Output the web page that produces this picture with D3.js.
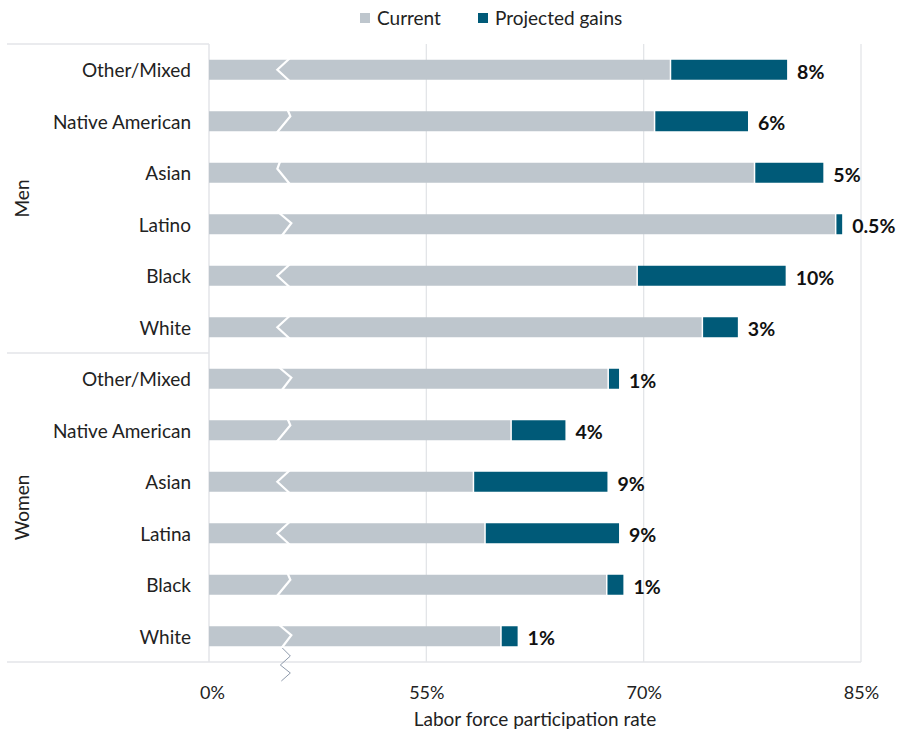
<!DOCTYPE html>
<html>
<head>
<meta charset="utf-8">
<script src="https://cdn.jsdelivr.net/npm/d3@7"></script>
<style>
  html, body { margin: 0; padding: 0; background: #fff; }
  svg { display: block; font-family: Lato, "Open Sans", sans-serif; }
</style>
</head>
<body>
<svg id="chart" width="897" height="734"></svg>
<script>
// ---- data ----
const groups = ["Men", "Women"];
const categories = ["Other/Mixed", "Native American", "Asian", "Latino", "Black", "White",
                    "Other/Mixed", "Native American", "Asian", "Latina", "Black", "White"];
const rowGroup = ["Men","Men","Men","Men","Men","Men","Women","Women","Women","Women","Women","Women"];
const currentRate = [71.8, 70.7, 77.6, 83.2, 69.5, 74.0, 67.5, 60.8, 58.2, 59.0, 67.4, 60.1];
const projectedRate = [79.9, 77.2, 82.4, 83.7, 79.8, 76.5, 68.3, 64.6, 67.5, 68.3, 68.6, 61.3];
const gainLabels = ["8%", "6%", "5%", "0.5%", "10%", "3%", "1%", "4%", "9%", "9%", "1%", "1%"];
const tickValues = [40, 55, 70, 85];
const tickLabels = ["0%", "55%", "70%", "85%"];
const seriesNames = ["Current", "Projected gains"];

// ---- style ----
const colCurrent = "#bec6cd";
const colGain = "#005a78";
const colGrid = "#e3e5e8";
const breakShapes = ["<","z","s",">","<","<",">","z","<","<","z",">"];

const svg = d3.select("#chart");
const pLeft = 209, pRight = 861, pTop = 44, pBottom = 662;

const x = d3.scaleLinear().domain([40, 85]).range([pLeft, pRight]);
const rows = d3.range(categories.length);
const y = d3.scaleBand().domain(rows).range([pTop, pBottom]).paddingInner(0.612).paddingOuter(0.306);

// gridlines
svg.append("g").selectAll("line").data(tickValues.slice(1)).join("line")
  .attr("x1", d => x(d)).attr("x2", d => x(d))
  .attr("y1", pTop).attr("y2", pBottom)
  .attr("stroke", colGrid).attr("stroke-width", 1.3);

// frame lines
const frame = svg.append("g").attr("stroke", colGrid).attr("stroke-width", 1.5);
frame.append("line").attr("x1", 7).attr("x2", pLeft).attr("y1", pTop).attr("y2", pTop);
frame.append("line").attr("x1", pLeft).attr("x2", pLeft).attr("y1", pTop).attr("y2", pBottom);
frame.append("line").attr("x1", 7).attr("x2", pRight).attr("y1", pBottom).attr("y2", pBottom);
const splitY = y(6) - y.step() * y.paddingInner() / 2;
frame.append("line").attr("x1", 7).attr("x2", pLeft).attr("y1", splitY).attr("y2", splitY);

// bars
const bars = svg.append("g");
bars.selectAll("rect.cur").data(rows).join("rect").attr("class", "cur")
  .attr("x", x(40)).attr("y", i => y(i))
  .attr("width", i => x(currentRate[i]) - x(40))
  .attr("height", y.bandwidth())
  .attr("fill", colCurrent);
bars.selectAll("rect.gain").data(rows).join("rect").attr("class", "gain")
  .attr("x", i => x(currentRate[i]) + 1.5).attr("y", i => y(i))
  .attr("width", i => Math.max(0, x(projectedRate[i]) - x(currentRate[i]) - 1.5))
  .attr("height", y.bandwidth())
  .attr("fill", colGain);

// break marks in bars
const bx = x(45.2);
const shapePts = {
  "<": [[6, -0.1], [-7, 0.5], [6, 1.1]],
  ">": [[-6, -0.1], [7, 0.45], [-3, 1.1]],
  "z": [[3, -0.1], [6, 0.25], [-8, 1.1]],
  "s": [[-4, -0.1], [-7, 0.3], [6, 1.1]]
};
bars.selectAll("path.brk").data(rows).join("path").attr("class", "brk")
  .attr("d", i => d3.line()(shapePts[breakShapes[i]].map(p => [bx + p[0], y(i) + p[1] * y.bandwidth()])))
  .attr("fill", "none").attr("stroke", "#fff").attr("stroke-width", 2.2);

// axis break symbol
svg.append("path")
  .attr("d", d3.line()([[bx - 2, 648], [bx + 6, 656], [bx - 4, 665], [bx + 6, 673], [bx - 3, 681]]))
  .attr("fill", "none").attr("stroke", "#8e9aab").attr("stroke-width", 1);

// value labels
svg.append("g").selectAll("text").data(rows).join("text")
  .attr("x", i => x(projectedRate[i]) + 10)
  .attr("y", i => y(i) + y.bandwidth() / 2 + 2)
  .attr("dy", "0.35em")
  .attr("font-size", 19.5).attr("font-weight", 700).attr("fill", "#111")
  .text(i => gainLabels[i]);

// category labels
svg.append("g").selectAll("text").data(rows).join("text")
  .attr("x", 191).attr("y", i => y(i) + y.bandwidth() / 2 + 1)
  .attr("dy", "0.35em").attr("text-anchor", "end")
  .attr("font-size", 19).attr("fill", "#222")
  .text(i => categories[i]);

// group labels
groups.forEach(g => {
  const idx = rows.filter(i => rowGroup[i] === g);
  const cy = (y(idx[0]) + y(idx[idx.length - 1]) + y.bandwidth()) / 2;
  svg.append("text")
    .attr("transform", `translate(22,${cy}) rotate(-90)`)
    .attr("dy", "0.35em").attr("text-anchor", "middle")
    .attr("font-size", 19).attr("fill", "#222")
    .text(g);
});

// x axis
const xAxis = d3.axisBottom(x).tickValues(tickValues).tickSize(0).tickPadding(0)
  .tickFormat((d, i) => tickLabels[i]);
const ax = svg.append("g").attr("transform", `translate(0,${pBottom})`).call(xAxis);
ax.select(".domain").remove();
ax.selectAll("text").attr("font-size", 18).attr("fill", "#222").attr("font-family", "Lato, sans-serif")
  .attr("dy", 0).attr("y", 37);
ax.selectAll(".tick").filter(d => d === 40).select("text").attr("x", 3);

svg.append("text")
  .attr("x", (pLeft + pRight) / 2).attr("y", 726)
  .attr("text-anchor", "middle").attr("font-size", 19).attr("fill", "#222")
  .text("Labor force participation rate");

// legend
const legend = svg.append("g");
const legX = [360, 478];
seriesNames.forEach((s, i) => {
  legend.append("rect").attr("x", legX[i]).attr("y", 13).attr("width", 10).attr("height", 10)
    .attr("fill", i === 0 ? colCurrent : colGain);
  legend.append("text").attr("x", legX[i] + 17).attr("y", 18).attr("dy", "0.35em")
    .attr("font-size", 19).attr("fill", "#222").text(s);
});
</script>
</body>
</html>
